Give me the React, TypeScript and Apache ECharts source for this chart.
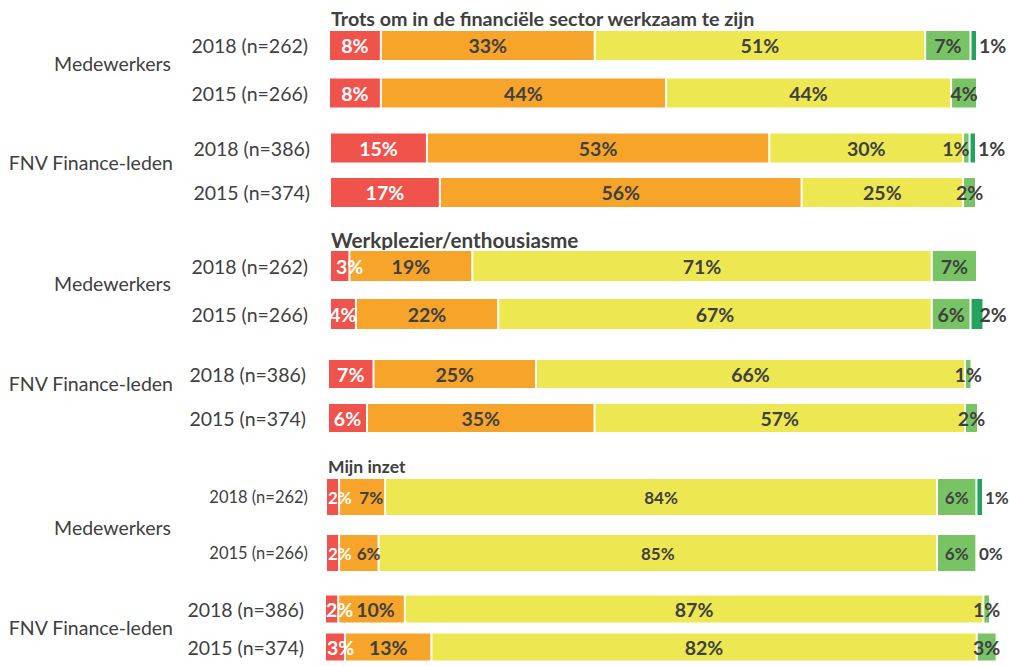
import { useEffect, useRef } from 'react';
import * as echarts from 'echarts';

const sectionTitles = [
  'Trots om in de financiële sector werkzaam te zijn',
  'Werkplezier/enthousiasme',
  'Mijn inzet',
];
const groupNames = ['Medewerkers', 'FNV Finance-leden'];
const rowLabels = [
  ['2018 (n=262)', '2015 (n=266)'],
  ['2018 (n=386)', '2015 (n=374)'],
];
const levelNames = ['Zeer laag', 'Laag', 'Gemiddeld', 'Hoog', 'Zeer hoog'];

// rows: Medewerkers 2018, Medewerkers 2015, FNV 2018, FNV 2015
const trotsRed = [8, 8, 15, 17];
const trotsOrange = [33, 44, 53, 56];
const trotsYellow = [51, 44, 30, 25];
const trotsLightGreen = [7, 4, 1, 2];
const trotsDarkGreen = [1, null, 1, null];

const werkRed = [3, 4, 7, 6];
const werkOrange = [19, 22, 25, 35];
const werkYellow = [71, 67, 66, 57];
const werkLightGreen = [7, 6, 1, 2];
const werkDarkGreen = [null, 2, null, null];

const inzetRed = [2, 2, 2, 3];
const inzetOrange = [7, 6, 10, 13];
const inzetYellow = [84, 85, 87, 82];
const inzetLightGreen = [6, 6, 1, 3];
const inzetDarkGreen = [1, 0, null, null];

const sections = [
  [trotsRed, trotsOrange, trotsYellow, trotsLightGreen, trotsDarkGreen],
  [werkRed, werkOrange, werkYellow, werkLightGreen, werkDarkGreen],
  [inzetRed, inzetOrange, inzetYellow, inzetLightGreen, inzetDarkGreen],
];

const levelColors = ['#F0524C', '#F7A52A', '#EDE852', '#78C464', '#22A45E'];
const TEXT = '#404040';
const FONT = 'Lato';

// layout per grid (section*2 + group)
const gridLayout = [
  { left: 329, right: 32, top: 21.75, height: 95, bw: 31, margin: 21, yFs: 19.5, lFs: 19.5 },
  { left: 330, right: 33, top: 125.75, height: 89, bw: 31, margin: 20, yFs: 19.5, lFs: 19.5 },
  { left: 330, right: 32, top: 242, height: 96, bw: 32, margin: 22, yFs: 19.5, lFs: 19.5 },
  { left: 328, right: 31, top: 352, height: 88, bw: 30, margin: 22, yFs: 19.5, lFs: 19.5 },
  { left: 326, right: 26, top: 469, height: 112, bw: 38, margin: 18, yFs: 16.5, lFs: 17 },
  { left: 325, right: 19, top: 590, height: 86, bw: 29, margin: 21, yFs: 19.5, lFs: 19.5 },
];

const titleLayout = [
  { x: 331, y: 18.5, fs: 19.7 },
  { x: 331, y: 240, fs: 20.7 },
  { x: 328, y: 466, fs: 17.5 },
];
const groupLabelLayout = [
  { x: 171, y: 63 },
  { x: 173, y: 162 },
  { x: 171, y: 283 },
  { x: 173, y: 383 },
  { x: 171, y: 527 },
  { x: 173, y: 627 },
];
const GROUP_FS = 19.5;

// label placement tweaks: key `${section}-${row}-${level}`
const labelTweaks: Record<string, any> = {
  '0-2-3': { position: 'insideRight', distance: 0 },
  '1-1-4': { position: 'right', distance: 1, offset: [-5, 0] },
  '1-0-0': { position: 'insideLeft', distance: 6 },
  '2-0-1': { position: 'insideRight', distance: 2 },
  '2-1-1': { position: 'insideRight', distance: 2, offset: [4, 0] },
  '2-2-0': { position: 'insideLeft', distance: 1 },
  '2-2-1': { position: 'inside', offset: [4, 0] },
};

function App() {
  const ref = useRef<HTMLDivElement>(null);
  useEffect(() => {
    if (!ref.current) return;
    const chart = echarts.init(ref.current, undefined, { renderer: 'svg' });
    const grids: any[] = [];
    const xAxes: any[] = [];
    const yAxes: any[] = [];
    const series: any[] = [];
    const graphics: any[] = [];

    for (let s = 0; s < 3; s++) {
      const t = titleLayout[s];
      graphics.push({
        type: 'text',
        x: t.x,
        y: t.y,
        style: {
          text: sectionTitles[s],
          fill: TEXT,
          font: `bold ${t.fs}px ${FONT}`,
          textAlign: 'left',
          textVerticalAlign: 'middle',
          verticalAlign: 'middle',
        },
      });
      for (let g = 0; g < 2; g++) {
        const gi = s * 2 + g;
        const L = gridLayout[gi];
        grids.push({ left: L.left, right: L.right, top: L.top, height: L.height, containLabel: false });
        xAxes.push({
          type: 'value', gridIndex: gi, min: 0, max: 100, show: false,
        });
        yAxes.push({
          type: 'category', gridIndex: gi, inverse: true, data: rowLabels[g],
          axisLine: { show: false }, axisTick: { show: false }, splitLine: { show: false },
          axisLabel: { margin: L.margin, color: TEXT, fontSize: L.yFs, fontFamily: FONT },
        });
        const gl = groupLabelLayout[gi];
        graphics.push({
          type: 'text',
          x: gl.x,
          y: gl.y,
          style: {
            text: groupNames[g],
            fill: TEXT,
            font: `${GROUP_FS}px ${FONT}`,
            textAlign: 'right',
            textVerticalAlign: 'middle',
            verticalAlign: 'middle',
          },
        });
        for (let l = 0; l < 5; l++) {
          const vals = sections[s][l].slice(g * 2, g * 2 + 2);
          const data = vals.map((v: any, r: number) => {
            if (v === null) return '-';
            const row = g * 2 + r;
            const tw = labelTweaks[`${s}-${row}-${l}`];
            let lbl: any = undefined;
            if (tw) lbl = tw;
            else if (l === 0 && v <= 3) lbl = { position: 'insideLeft', distance: 2 };
            return lbl ? { value: v, label: lbl } : { value: v };
          });
          series.push({
            type: 'bar',
            name: levelNames[l],
            xAxisIndex: gi,
            yAxisIndex: gi,
            stack: 'st' + gi,
            barWidth: L.bw,
            clip: false,
            data,
            itemStyle: { color: levelColors[l], borderColor: '#ffffff', borderWidth: 1 },
            label: {
              show: true,
              position: l === 4 ? 'right' : 'inside',
              distance: l === 4 ? 2 : 5,
              formatter: (p: any) => `${p.value}%`,
              color: l === 0 ? '#ffffff' : TEXT,
              fontWeight: 'bold',
              fontSize: L.lFs,
              fontFamily: FONT,
            },
          });
        }
      }
    }

    chart.setOption({
      animation: false,
      grid: grids,
      xAxis: xAxes,
      yAxis: yAxes,
      series,
      graphic: graphics,
    });
    return () => chart.dispose();
  }, []);
  return (
    <div
      ref={ref}
      style={{ position: 'absolute', left: 0, top: 0, width: 1009, height: 666, background: '#fff' }}
    />
  );
}

export default App;
